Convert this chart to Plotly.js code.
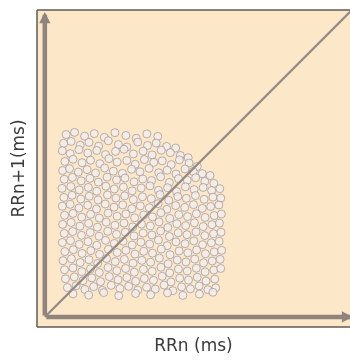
<!DOCTYPE html>
<html>
<head>
<meta charset="utf-8">
<script src="https://cdn.plot.ly/plotly-3.0.1.min.js"></script>
<style>html,body{margin:0;padding:0;background:#fff;}#chart{width:350px;height:361px;filter:blur(0.5px);}</style>
</head>
<body>
<div id="chart"></div>
<script>
// RR interval pairs (RRn, RRn+1) (arbitrary ms units)
const rrN = [
68,95,127,158,190,224,259,292,326,361,
60,84,113,141,172,203,235,262,297,328,356,389,418,
56,81,109,137,166,194,226,253,283,314,343,372,401,433,458,
64,90,119,146,176,205,231,262,289,318,348,375,404,430,461,487,
57,79,107,135,162,191,219,248,277,304,333,364,391,419,448,474,503,528,
62,88,116,144,171,199,229,256,285,313,341,370,398,427,455,482,511,540,
55,83,110,139,166,195,222,251,279,308,336,363,392,421,449,477,506,533,559,
61,87,115,142,170,200,227,255,283,312,340,368,396,425,452,481,509,537,562,
56,81,109,137,165,193,221,249,278,305,334,362,390,418,447,475,503,530,556,
63,90,118,146,174,202,231,259,287,316,344,371,399,428,456,484,512,541,564,
57,84,112,140,168,196,224,253,281,309,337,365,393,422,450,478,506,534,558,
62,89,117,145,173,201,229,257,285,314,342,370,398,426,454,483,511,539,563,
56,82,110,138,166,194,222,250,279,307,335,363,391,419,448,476,504,532,557,
64,91,119,147,175,203,231,259,288,316,344,372,400,429,457,485,513,541,565,
58,85,113,141,169,197,225,254,282,310,338,366,394,423,451,479,507,535,560,
63,90,118,146,174,202,230,258,286,315,343,371,399,427,455,484,512,540,562,
66,94,122,150,178,206,234,262,290,318,347,375,403,431,459,487,515,543,
72,100,128,156,184,212,240,268,297,325,353,381,409,437,465,493,521,546,
90,140,188,236,290,338,392,441,494,537
];
const rrN1 = [
583,590,578,586,574,589,580,571,585,577,
555,561,549,558,546,563,551,543,559,548,556,545,540,
531,522,535,524,532,519,529,536,521,530,518,533,525,516,509,
497,504,493,501,490,506,495,500,488,503,494,499,487,502,492,481,
468,474,463,471,460,476,466,459,472,464,475,461,469,457,473,465,458,452,
440,446,435,443,431,447,438,444,432,441,436,448,430,442,437,445,433,427,
411,417,406,414,402,418,409,415,403,412,419,405,413,401,416,407,414,404,410,
382,389,377,386,374,390,380,387,375,384,378,391,373,385,379,388,376,383,380,
354,360,348,357,345,361,351,358,346,355,349,362,344,356,350,359,347,353,358,
325,331,319,328,316,332,322,329,317,326,320,333,315,327,321,330,318,324,329,
296,302,290,299,287,303,293,300,288,297,291,304,286,298,292,301,289,295,300,
267,273,261,270,258,274,264,271,259,268,262,275,257,269,263,272,260,266,271,
238,244,232,241,229,245,235,242,230,239,233,246,228,240,234,243,231,237,242,
209,215,203,212,200,216,206,213,201,210,204,217,199,211,205,214,202,208,213,
180,186,174,183,171,187,177,184,172,181,175,188,170,182,176,185,173,179,184,
151,157,145,154,142,158,148,155,143,152,146,159,141,153,147,156,144,150,155,
122,128,116,125,113,129,119,126,114,123,117,130,112,124,118,127,115,121,
94,100,88,97,85,101,91,98,86,95,89,102,84,96,90,99,87,93,
74,70,78,68,75,71,77,69,73,79
];
// identity line endpoints
const identity = [0, 985];

const titleFont = {family: 'DejaVu Sans, Verdana, sans-serif', size: 17, color: '#3a3a3a'};

const traces = [
  {
    x: rrN, y: rrN1, type: 'scatter', mode: 'markers',
    marker: {size: 8, color: 'rgba(242,236,234,0.85)', line: {color: 'rgba(150,140,140,0.65)', width: 1}},
    hoverinfo: 'skip', showlegend: false
  },
  {
    x: identity, y: identity, type: 'scatter', mode: 'lines',
    line: {color: '#968b85', width: 2.4}, hoverinfo: 'skip', showlegend: false
  }
];

const layout = {
  width: 350, height: 361,
  margin: {l: 37, r: 0, t: 10, b: 34},
  paper_bgcolor: '#ffffff',
  plot_bgcolor: '#fde7c9',
  showlegend: false,
  xaxis: {
    range: [-25, 975], showgrid: false, zeroline: false, showticklabels: false, ticks: '',
    showline: false, fixedrange: true,
    title: {text: 'RRn (ms)', font: titleFont, standoff: 12}
  },
  yaxis: {
    range: [-32, 981], showgrid: false, zeroline: false, showticklabels: false, ticks: '',
    showline: false, fixedrange: true,
    title: {text: 'RRn+1(ms)', font: titleFont, standoff: 7}
  },
  shapes: [
    {type: 'line', xref: 'paper', yref: 'paper', x0: 0, x1: 0, y0: 0, y1: 1, line: {color: '#5f5a55', width: 1.5}},
    {type: 'line', xref: 'paper', yref: 'paper', x0: 0, x1: 1, y0: 1, y1: 1, line: {color: '#5f5a55', width: 1.5}},
    {type: 'line', xref: 'paper', yref: 'paper', x0: 0, x1: 1, y0: 0, y1: 0, line: {color: '#5f5a55', width: 1.5}}
  ],
  annotations: [
    {x: 985, y: 0, ax: 0, ay: 0, xref: 'x', yref: 'y', axref: 'x', ayref: 'y', text: '', showarrow: true,
     arrowhead: 2, arrowsize: 0.5, arrowwidth: 4.5, arrowcolor: '#8f857d'},
    {x: 0, y: 975, ax: 0, ay: 0, xref: 'x', yref: 'y', axref: 'x', ayref: 'y', text: '', showarrow: true,
     arrowhead: 2, arrowsize: 0.5, arrowwidth: 4.5, arrowcolor: '#8f857d'}
  ]
};

Plotly.newPlot('chart', traces, layout, {displayModeBar: false, staticPlot: true});
</script>
</body>
</html>
